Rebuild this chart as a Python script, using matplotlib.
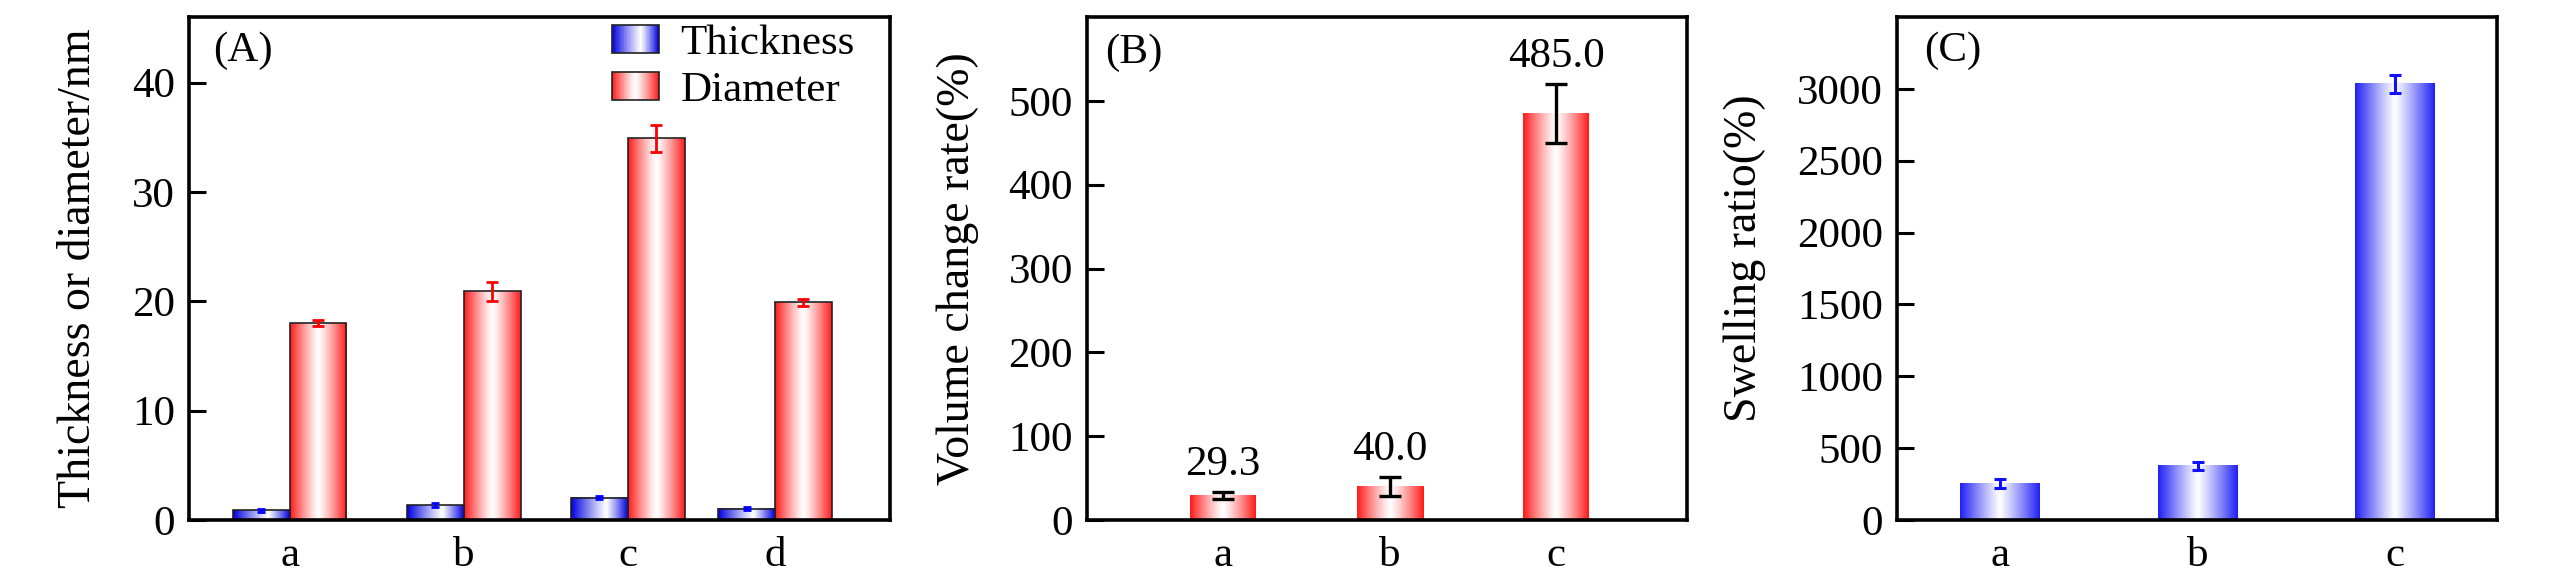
import numpy as np
import matplotlib
matplotlib.use('Agg')
import matplotlib.pyplot as plt
from matplotlib.colors import to_rgb
from matplotlib.patches import Rectangle
from matplotlib.legend_handler import HandlerBase

plt.rcParams['font.family'] = ['Liberation Serif', 'DejaVu Serif']

# ---------------- data ----------------
cats_A = ['a', 'b', 'c', 'd']
thickness = [0.88, 1.36, 2.04, 1.02]
thickness_err = [0.15, 0.15, 0.12, 0.15]
diameter = [18.0, 20.9, 34.9, 19.9]
diameter_err = [0.3, 0.85, 1.25, 0.35]

cats_B = ['a', 'b', 'c']
volume_change = [29.3, 40.0, 485.0]
volume_err = [4.0, 11.0, 35.0]

cats_C = ['a', 'b', 'c']
swelling = [253, 377, 3035]
swelling_err = [31, 26, 64]

# ---------------- style ----------------
RED = '#FF1A1A'
FS_TICK = 31
FS_TEXT = 31
FS_YLABEL = 33


def grad_colors(color, n=256, center=0.5, p=1.2):
    u = np.linspace(0, 1, n)
    d = np.where(u < center, (center - u) / center, (u - center) / (1 - center))
    t = np.clip(d, 0, 1) ** p
    rgb = np.array(to_rgb(color))
    return 1 - t[:, None] * (1 - rgb[None, :])


def gradient_bars(ax, bars, color, center=0.5, p=1.2):
    img = grad_colors(color, center=center, p=p)[None, :, :]
    for patch in bars:
        x0, y0 = patch.get_x(), patch.get_y()
        w, h = patch.get_width(), patch.get_height()
        ax.imshow(img, extent=[x0, x0 + w, y0, y0 + h], aspect='auto',
                  interpolation='bilinear', zorder=1.5)


class GradientHandler(HandlerBase):
    def __init__(self, color, center=0.5, p=1.2, n=60):
        super().__init__()
        self.color, self.center, self.p, self.n = color, center, p, n

    def create_artists(self, legend, orig_handle, xdescent, ydescent,
                       width, height, fontsize, trans):
        cols = grad_colors(self.color, n=self.n, center=self.center, p=self.p)
        arts = []
        sw = width / self.n
        for i, c in enumerate(cols):
            r = Rectangle((-xdescent + i * sw, -ydescent), sw * 1.15, height,
                          facecolor=c, edgecolor='none', linewidth=0,
                          transform=trans)
            arts.append(r)
        arts.append(Rectangle((-xdescent, -ydescent), width, height,
                              facecolor='none', edgecolor='#222222',
                              linewidth=1.2, transform=trans))
        return arts


def style_axes(ax, yticks):
    for s in ax.spines.values():
        s.set_linewidth(2.6)
    ax.set_yticks(yticks)
    ax.tick_params(axis='y', direction='in', length=12, width=2.2,
                   labelsize=FS_TICK, pad=10, right=False)
    ax.tick_params(axis='x', length=0, labelsize=FS_TICK, pad=12, top=False)


W, H = 2567, 583
fig = plt.figure(figsize=(W / 100, H / 100), dpi=100)
bottom = (H - 520) / H
height = 503 / H
axA = fig.add_axes([189 / W, bottom, 701 / W, height])
axB = fig.add_axes([1087 / W, bottom, 600 / W, height])
axC = fig.add_axes([1897 / W, bottom, 600 / W, height])

# ---------------- panel A ----------------
posA = [0.1434, 0.392, 0.626, 0.836]
wA = 0.081
xt = [p - wA / 2 for p in posA]
xd = [p + wA / 2 for p in posA]
bt = axA.bar(xt, thickness, width=wA, facecolor='none', edgecolor='#222222',
             linewidth=1.2, zorder=2)
bd = axA.bar(xd, diameter, width=wA, facecolor='none', edgecolor='#222222',
             linewidth=1.2, zorder=2)
gradient_bars(axA, bt, '#0000E0', center=0.62, p=1.1)
gradient_bars(axA, bd, RED, center=0.5, p=1.2)
axA.errorbar(xt, thickness, yerr=thickness_err, fmt='none', ecolor='#0000FF',
             elinewidth=2.0, capsize=3, capthick=2.0, zorder=3)
axA.errorbar(xd, diameter, yerr=diameter_err, fmt='none', ecolor='#FF0000',
             elinewidth=2.0, capsize=4, capthick=2.0, zorder=3)
axA.set_xlim(0, 1)
axA.set_ylim(0, 46)
axA.set_xticks(posA)
axA.set_xticklabels(cats_A)
style_axes(axA, [0, 10, 20, 30, 40])
axA.set_ylabel('Thickness or diameter/nm', fontsize=FS_YLABEL)
axA.yaxis.set_label_coords(-0.127, 0.5)
axA.text(0.034, 0.972, '(A)', transform=axA.transAxes, fontsize=FS_TEXT,
         ha='left', va='top')
hb = Rectangle((0, 0), 1, 1)
hr = Rectangle((0, 0), 1, 1)
axA.legend([hb, hr], ['Thickness', 'Diameter'],
           handler_map={hb: GradientHandler('#0000E0', center=0.62, p=1.1),
                        hr: GradientHandler(RED)},
           loc='upper left', bbox_to_anchor=(0.603, 0.985), frameon=False,
           fontsize=FS_TEXT, handlelength=1.1, handleheight=0.6,
           handletextpad=0.5, labelspacing=0.2, borderpad=0, borderaxespad=0)

# ---------------- panel B ----------------
posB = [0.226, 0.505, 0.782]
wB = 0.110
bb = axB.bar(posB, volume_change, width=wB, facecolor='none',
             edgecolor='none', zorder=2)
gradient_bars(axB, bb, RED, center=0.5, p=1.2)
axB.errorbar(posB, volume_change, yerr=volume_err, fmt='none', ecolor='black',
             elinewidth=2.4, capsize=8, capthick=2.4, zorder=3)
for x, v, e in zip(posB, volume_change, volume_err):
    axB.annotate(f'{v:.1f}', xy=(x, v + e), xytext=(0, 6),
                 textcoords='offset points', ha='center', va='bottom',
                 fontsize=FS_TEXT)
axB.set_xlim(0, 1)
axB.set_ylim(0, 600)
axB.set_xticks(posB)
axB.set_xticklabels(cats_B)
style_axes(axB, [0, 100, 200, 300, 400, 500])
axB.set_ylabel('Volume change rate(%)', fontsize=FS_YLABEL)
axB.yaxis.set_label_coords(-0.18, 0.5)
axB.text(0.03, 0.968, '(B)', transform=axB.transAxes, fontsize=FS_TEXT,
         ha='left', va='top')

# ---------------- panel C ----------------
posC = [0.171, 0.501, 0.830]
wC = 0.132
bc = axC.bar(posC, swelling, width=wC, facecolor='none', edgecolor='none',
             zorder=2)
gradient_bars(axC, bc, '#2020F5', center=0.5, p=1.1)
axC.errorbar(posC, swelling, yerr=swelling_err, fmt='none', ecolor='#1010FF',
             elinewidth=2.2, capsize=4, capthick=2.2, zorder=3)
axC.set_xlim(0, 1)
axC.set_ylim(0, 3500)
axC.set_xticks(posC)
axC.set_xticklabels(cats_C)
style_axes(axC, [0, 500, 1000, 1500, 2000, 2500, 3000])
axC.set_ylabel('Swelling ratio(%)', fontsize=FS_YLABEL)
axC.yaxis.set_label_coords(-0.218, 0.52)
axC.text(0.045, 0.972, '(C)', transform=axC.transAxes, fontsize=FS_TEXT,
         ha='left', va='top')

fig.savefig('out.png', dpi=100)
